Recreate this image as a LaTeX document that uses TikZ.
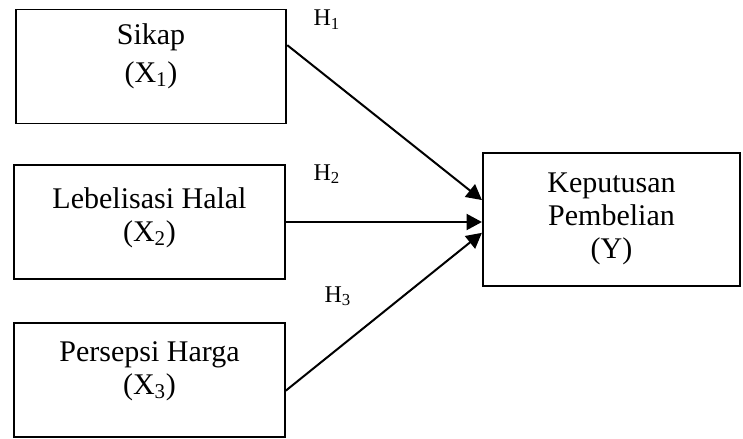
\documentclass[tikz,border=0pt]{standalone}
\usepackage{fontspec}
\setmainfont{Liberation Serif}
\usetikzlibrary{arrows.meta}

\tikzset{every picture/.style={line width=0.75pt}}
\tikzset{
  varbox/.style={draw, line width=1.4pt, inner sep=0pt, minimum width=203pt, minimum height=85.5pt},
  ybox/.style={draw, line width=1.4pt, inner sep=0pt, minimum width=193pt, minimum height=100pt},
  vartext/.style={inner sep=0pt, align=center, font=\fontsize{22.5}{24.5}\selectfont},
  hyp/.style={anchor=base west, inner sep=0pt, font=\fontsize{18}{20}\selectfont},
  path/.style={line width=1.5pt, -{Triangle[length=11.5pt,width=12pt]}}
}

\begin{document}
\begin{tikzpicture}[x=0.75pt,y=0.75pt,yscale=-1,xscale=1]

\useasboundingbox (0,0) rectangle (743,439);

% boxes
\node [varbox] (x1) at (151,66.5) {};
\node [varbox] (x2) at (149.5,222) {};
\node [varbox] (x3) at (149.5,380) {};
\node [ybox] (y) at (611.5,219.5) {};

% texts in boxes
\node [vartext] (x1t) at (151,56) {Sikap\\[4pt](X\textsubscript{1})};
\node [vartext] (x2t) at (149.5,218) {Lebelisasi Halal\\(X\textsubscript{2})};
\node [vartext] (x3t) at (149.5,371.5) {Persepsi Harga\\(X\textsubscript{3})};
\node [vartext] (yt) at (611.5,219) {Keputusan\\Pembelian\\(Y)};

% hypotheses
\node [hyp] (h1) at (313,26) {H\textsubscript{1}};
\node [hyp] (h2) at (313,180) {H\textsubscript{2}};
\node [hyp] (h3) at (324,302) {H\textsubscript{3}};

% arrows
\draw [path] ([yshift=-16pt]x1.east) -- ([yshift=-14.6pt]y.west);
\draw [path] (x2.east) -- (x2.east -| y.west);
\draw [path] ([yshift=8pt]x3.east) -- ([yshift=10pt]y.west);

\end{tikzpicture}
\end{document}
